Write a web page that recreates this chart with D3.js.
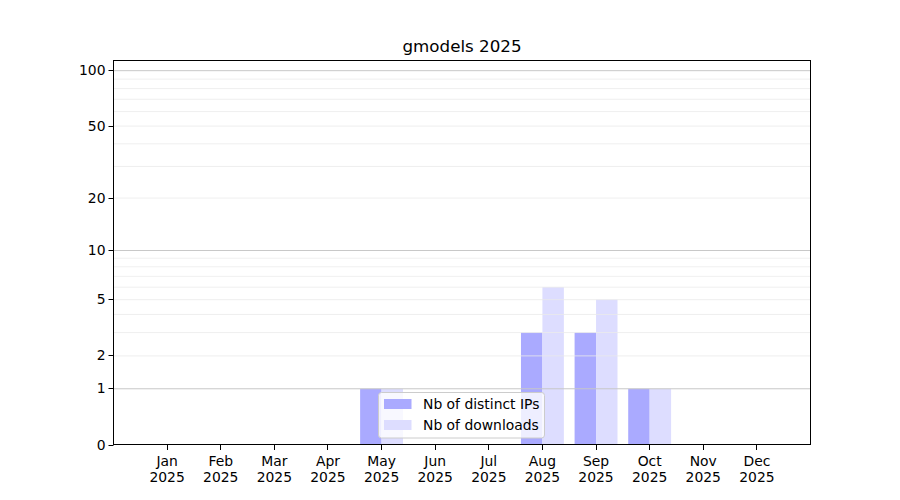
<!DOCTYPE html>
<html>
<head>
<meta charset="utf-8">
<script src="https://cdn.jsdelivr.net/npm/d3@7"></script>
<style>
  body { margin: 0; background: #fff; }
  svg { display: block; font-family: "DejaVu Sans", sans-serif; }
</style>
</head>
<body>
<svg id="chart" width="900" height="500"></svg>
<script>
const title = "gmodels 2025";
const months = ["Jan", "Feb", "Mar", "Apr", "May", "Jun", "Jul", "Aug", "Sep", "Oct", "Nov", "Dec"];
const yearLabel = "2025";
const distinctIPs = [0, 0, 0, 0, 1, 0, 0, 3, 3, 1, 0, 0];
const downloads = [0, 0, 0, 0, 1, 0, 0, 6, 5, 1, 0, 0];
const seriesNames = ["Nb of distinct IPs", "Nb of downloads"];
const seriesColors = ["#aaaaff", "#ddddff"];
const yTicks = [0, 1, 2, 5, 10, 20, 50, 100];
const majorGrid = [1, 10, 100];
const minorGrid = [2, 3, 4, 5, 6, 7, 8, 9, 20, 30, 40, 50, 60, 70, 80, 90];
const yMax = 113.5;

const svg = d3.select("#chart");
const L = 113.5, R = 810.5, T = 60.5, B = 445;

const x = d3.scaleLinear().domain([-1, 12]).range([L, R]);
const yLog = d3.scaleLog().domain([1, yMax + 1]).range([B, T]);
const y = v => yLog(v + 1);
const bw = x(0.4) - x(0);

// bars
const g = svg.append("g");
months.forEach((m, i) => {
  g.append("rect").attr("x", x(i - 0.4)).attr("width", bw)
    .attr("y", y(distinctIPs[i])).attr("height", B - y(distinctIPs[i]))
    .attr("fill", seriesColors[0]);
  g.append("rect").attr("x", x(i)).attr("width", bw)
    .attr("y", y(downloads[i])).attr("height", B - y(downloads[i]))
    .attr("fill", seriesColors[1]);
});

// grid
minorGrid.forEach(v => {
  svg.append("line").attr("x1", L).attr("x2", R).attr("y1", y(v)).attr("y2", y(v))
    .attr("stroke", "#ebebeb").attr("stroke-width", 0.8);
});
majorGrid.forEach(v => {
  svg.append("line").attr("x1", L).attr("x2", R).attr("y1", y(v)).attr("y2", y(v))
    .attr("stroke", "#c8c8c8").attr("stroke-width", 1);
});

// frame
svg.append("rect").attr("x", L).attr("y", T).attr("width", R - L).attr("height", B - 0.5 - T)
  .attr("fill", "none").attr("stroke", "#000").attr("stroke-width", 1)
  .attr("shape-rendering", "crispEdges");

// y axis
yTicks.forEach(v => {
  const yy = Math.round(y(v) - 0.5) + 0.5;
  svg.append("line").attr("x1", L - 5).attr("x2", L).attr("y1", yy).attr("y2", yy)
    .attr("stroke", "#000").attr("stroke-width", 1);
  svg.append("text").attr("x", L - 8).attr("y", yy).attr("dy", "0.35em")
    .attr("text-anchor", "end").attr("font-size", "13.9px").attr("fill", "#000").text(v);
});

// x axis
months.forEach((m, i) => {
  const xx = Math.round(x(i) - 0.5) + 0.5;
  svg.append("line").attr("x1", xx).attr("x2", xx).attr("y1", B).attr("y2", B + 5)
    .attr("stroke", "#000").attr("stroke-width", 1);
  const t = svg.append("text").attr("x", x(i)).attr("y", 466).attr("text-anchor", "middle")
    .attr("font-size", "13.9px").attr("fill", "#000");
  t.append("tspan").attr("x", x(i)).text(m);
  t.append("tspan").attr("x", x(i)).attr("dy", 16).text(yearLabel);
});

// title
svg.append("text").attr("x", (L + R) / 2).attr("y", 52).attr("text-anchor", "middle")
  .attr("font-size", "16.7px").attr("fill", "#000").text(title);

// legend
const lg = svg.append("g");
lg.append("rect").attr("x", 378.5).attr("y", 392.5).attr("width", 166).attr("height", 45.5)
  .attr("rx", 3).attr("fill", "#fff").attr("fill-opacity", 0.8)
  .attr("stroke", "#cccccc").attr("stroke-width", 1);
seriesNames.forEach((n, k) => {
  const cy = 404 + k * 21;
  lg.append("rect").attr("x", 384).attr("y", cy - 5).attr("width", 27.5).attr("height", 10)
    .attr("fill", seriesColors[k]);
  lg.append("text").attr("x", 423).attr("y", cy).attr("dy", "0.35em")
    .attr("font-size", "13.9px").attr("fill", "#000").text(n);
});
</script>
</body>
</html>
